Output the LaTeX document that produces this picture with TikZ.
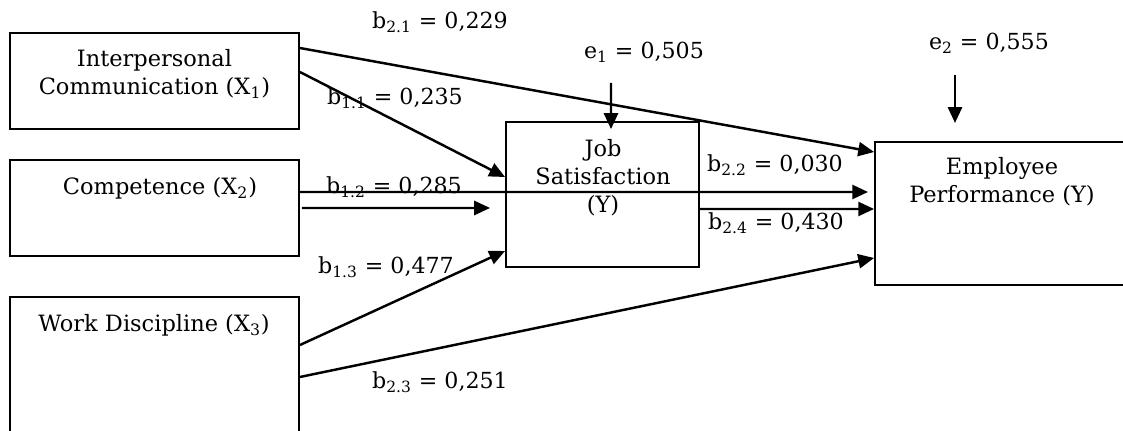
\documentclass[tikz,border=0pt]{standalone}
\usepackage{fontspec}
\setmainfont{DejaVu Serif}
\usetikzlibrary{arrows.meta, positioning, calc}

\begin{document}
\begin{tikzpicture}[
    x=0.02cm, y=-0.02cm,
    var/.style={rectangle, draw=black, line width=1.1pt, inner sep=0pt},
    txt/.style={align=center, font=\fontsize{12.8}{16}\selectfont},
    coef/.style={font=\fontsize{12.6}{15}\selectfont},
    arr/.style={-{Triangle[length=9pt,width=8pt]}, line width=1.4pt}
]
\useasboundingbox (0,0) rectangle (1123,431);

% variables
\node[var, minimum width=5.78cm, minimum height=1.92cm] (X1) at (154.5,81) {};
\node[var, minimum width=5.78cm, minimum height=1.92cm] (X2) at (154.5,208) {};
\node[var, minimum width=5.78cm, minimum height=2.86cm] (X3) at (154.5,368.5) {};
\node[var, minimum width=3.86cm, minimum height=2.9cm] (Y1) at (602.5,194.5) {};
\node[var, minimum width=5.2cm, minimum height=2.86cm] (Y2) at (1005,213.5) {};

\node[txt] (tX1) at (154.5,74) {Interpersonal\\Communication (X\textsubscript{1})};
\node[txt] (tX2) at (160,188) {Competence (X\textsubscript{2})};
\node[txt] (tX3) at (154,325) {Work Discipline (X\textsubscript{3})};
\node[txt] (tY1) at (603,177.5) {Job\\Satisfaction\\(Y)};
\node[txt] (tY2) at (1002,182) {Employee\\Performance (Y)};

% coefficients
\node[coef] (b21) at (440,22) {b\textsubscript{2.1} = 0,229};
\node[coef] (b11) at (395,98) {b\textsubscript{1.1} = 0,235};
\node[coef] (b12) at (394,187) {b\textsubscript{1.2} = 0,285};
\node[coef] (b13) at (386,267) {b\textsubscript{1.3} = 0,477};
\node[coef] (b23) at (440,382) {b\textsubscript{2.3} = 0,251};
\node[coef] (b22) at (775,165) {b\textsubscript{2.2} = 0,030};
\node[coef] (b24) at (776,223) {b\textsubscript{2.4} = 0,430};
\node[coef] (e1) at (644,52) {e\textsubscript{1} = 0,505};
\node[coef] (e2) at (989,43) {e\textsubscript{2} = 0,555};

% paths
\draw[arr] ([yshift=0.66cm]X1.east) -- ([yshift=1.23cm]Y2.west);
\draw[arr] ([yshift=0.18cm]X1.east) -- ([yshift=0.35cm]Y1.west);
\draw[arr] ([yshift=0.32cm]X2.east) -- ([xshift=-0.12cm, yshift=0.43cm]Y2.west);
\draw[arr] ([xshift=0.04cm]X2.east) -- ([xshift=-0.3cm, yshift=-0.27cm]Y1.west);
\draw[arr] ([yshift=0.47cm]X3.east) -- ([yshift=-1.13cm]Y1.west);
\draw[arr] ([yshift=-0.17cm]X3.east) -- ([yshift=-0.89cm]Y2.west);
\draw[arr] ([yshift=-0.29cm]Y1.east) -- ([yshift=0.09cm]Y2.west);

% residuals
\coordinate (e1s) at (611,83);
\coordinate (e2s) at (955,75);
\coordinate (e2e) at (955,123);
\draw[arr] (e1s) -- ([xshift=0.17cm, yshift=-0.16cm]Y1.north);
\draw[arr] (e2s) -- (e2e);
\end{tikzpicture}
\end{document}
